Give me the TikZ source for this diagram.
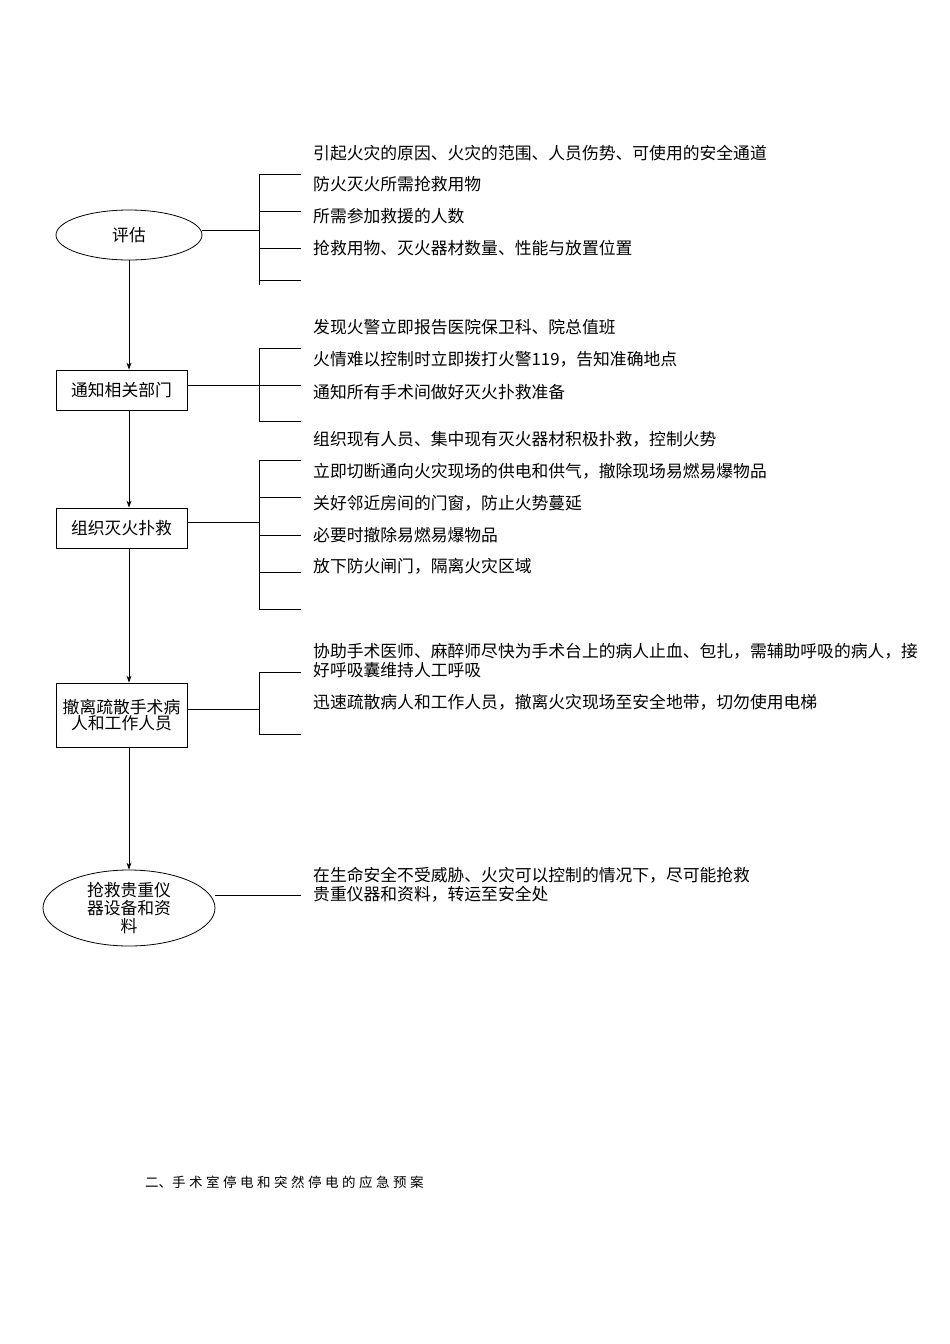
\documentclass[tikz,border=0pt]{standalone}
\usepackage{fontspec}
\setmainfont{Noto Sans CJK SC}
\usetikzlibrary{shapes.geometric,arrows.meta}
\newcommand{\gp}{\hspace{3.5pt}}
\begin{document}
\begin{tikzpicture}[x=1pt,y=-1pt,font=\fontsize{16.8}{20}\selectfont,
  ln/.style={line width=0.8pt},
  arr/.style={ln,-{Stealth[length=7pt,width=5pt]}},
  bx/.style={draw,line width=0.8pt,inner sep=0pt,minimum width=131pt,align=center},
  el/.style={draw,ellipse,line width=0.8pt,inner sep=0pt,align=center},
  tx/.style={anchor=west,inner sep=0pt}]
\path[use as bounding box] (0,0) rectangle (950,1344);
\node[el,minimum width=146pt,minimum height=50pt] (a) at (129,235) {评估};
\node[bx,minimum height=40pt] (b) at (121.5,390) {通知相关部门};
\node[bx,minimum height=40pt] (c) at (121.5,528) {组织灭火扑救};
\node[bx,minimum height=64pt] (d) at (121.5,715) {撤离疏散手术病\\[-4pt]人和工作人员};
\node[el,minimum width=172pt,minimum height=76pt] (e) at (129,908) {抢救贵重仪\\[-2pt]器设备和资\\[-2pt]料};
\draw[arr] (a.south) -- (a.south |- b.north);
\draw[arr] (a.south |- b.south) -- (a.south |- c.north);
\draw[arr] (a.south |- c.south) -- (a.south |- d.north);
\draw[arr] (a.south |- d.south) -- (e.north);
% bracket 1
\coordinate (j1) at (259,230);
\draw[ln] (a.east |- j1) -- (j1);
\draw[ln] (259,174) -- (259,285);
\foreach \y in {174,211,248,280} \draw[ln] (259,\y) -- (301,\y);
\node[tx] at (313,153) {引起火灾的原因、火灾的范围、人员伤势、可使用的安全通道};
\node[tx] at (313,184) {防火灭火所需抢救用物};
\node[tx] at (313,216) {所需参加救援的人数};
\node[tx] at (313,248) {抢救用物、灭火器材数量、性能与放置位置};
% bracket 2
\coordinate (j2) at (259,385);
\draw[ln] (b.east |- j2) -- (j2);
\draw[ln] (259,348) -- (259,421);
\foreach \y in {348,385,421} \draw[ln] (259,\y) -- (301,\y);
\node[tx] at (313,327) {发现火警立即报告医院保卫科、院总值班};
\node[tx] at (313,359) {火情难以控制时立即拨打火警119，告知准确地点};
\node[tx] at (313,392) {通知所有手术间做好灭火扑救准备};
% bracket 3
\coordinate (j3) at (259,522);
\draw[ln] (c.east |- j3) -- (j3);
\draw[ln] (259,460) -- (259,609);
\foreach \y in {460,497,535,572,609} \draw[ln] (259,\y) -- (301,\y);
\node[tx] at (313,439) {组织现有人员、集中现有灭火器材积极扑救，控制火势};
\node[tx] at (313,471) {立即切断通向火灾现场的供电和供气，撤除现场易燃易爆物品};
\node[tx] at (313,503) {关好邻近房间的门窗，防止火势蔓延};
\node[tx] at (313,535) {必要时撤除易燃易爆物品};
\node[tx] at (313,566) {放下防火闸门，隔离火灾区域};
% bracket 4
\coordinate (j4) at (259,709);
\draw[ln] (d.east |- j4) -- (j4);
\draw[ln] (259,672) -- (259,734);
\foreach \y in {672,734} \draw[ln] (259,\y) -- (301,\y);
\node[tx] at (313,651) {协助手术医师、麻醉师尽快为手术台上的病人止血、包扎，需辅助呼吸的病人，接};
\node[tx] at (313,670) {好呼吸囊维持人工呼吸};
\node[tx] at (313,702) {迅速疏散病人和工作人员，撤离火灾现场至安全地带，切勿使用电梯};
% 5
\coordinate (j5) at (301,895);
\draw[ln] (e.east |- j5) -- (j5);
\node[tx] at (313,875) {在生命安全不受威胁、火灾可以控制的情况下，尽可能抢救};
\node[tx] at (313,894) {贵重仪器和资料，转运至安全处};
\node[tx,font=\fontsize{13.5}{15}\selectfont] at (145,1182) {二、手\gp 术\gp 室\gp 停\gp 电\gp 和\gp 突\gp 然\gp 停\gp 电\gp 的\gp 应\gp 急\gp 预\gp 案};
\end{tikzpicture}
\end{document}
